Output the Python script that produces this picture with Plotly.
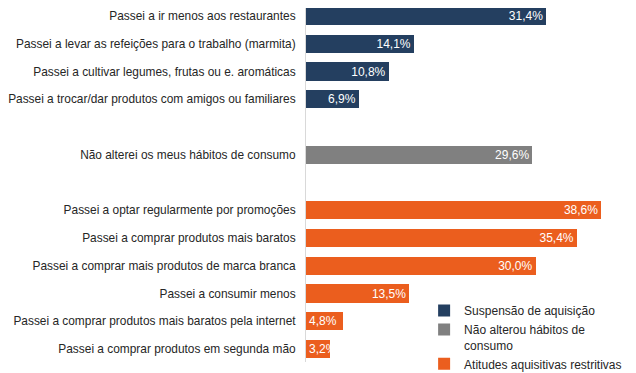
import plotly.graph_objects as go

# Data
grp1_labels = ["Passei a ir menos aos restaurantes",
               "Passei a levar as refeições para o trabalho (marmita)",
               "Passei a cultivar legumes, frutas ou e. aromáticas",
               "Passei a trocar/dar produtos com amigos ou familiares"]
grp1_values = [31.4, 14.1, 10.8, 6.9]

grp2_labels = ["Não alterei os meus hábitos de consumo"]
grp2_values = [29.6]

grp3_labels = ["Passei a optar regularmente por promoções",
               "Passei a comprar produtos mais baratos",
               "Passei a comprar mais produtos de marca branca",
               "Passei a consumir menos",
               "Passei a comprar produtos mais baratos pela internet",
               "Passei a comprar produtos em segunda mão"]
grp3_values = [38.6, 35.4, 30.0, 13.5, 4.8, 3.2]

series_names = ["Suspensão de aquisição",
                "Não alterou hábitos de<br>consumo",
                "Atitudes aquisitivas restritivas"]
colors = ["#243F60", "#808080", "#EB5E1E"]

spacer1, spacer2 = " ", "  "
category_order = grp1_labels + [spacer1] + grp2_labels + [spacer2] + grp3_labels

SMALL = 5.0  # bars too short for a right-aligned label


def fmt(v):
    return f"{v:.1f}%".replace(".", ",")


fig = go.Figure()
for i, (name, labels, values, color) in enumerate(zip(
        series_names, [grp1_labels, grp2_labels, grp3_labels],
        [grp1_values, grp2_values, grp3_values], colors)):
    big = [(l, v) for l, v in zip(labels, values) if v >= SMALL]
    small = [(l, v) for l, v in zip(labels, values) if v < SMALL]
    for part, anchor, show in ((big, "end", True), (small, "start", False)):
        if not part:
            continue
        ys = [p[0] for p in part]
        xs = [p[1] for p in part]
        fig.add_trace(go.Bar(
            y=ys, x=xs, orientation="h", name=name,
            legendgroup=f"g{i}", showlegend=show,
            marker=dict(color=color, line=dict(width=0)),
            text=[fmt(v) for v in xs], textposition="inside",
            insidetextanchor=anchor,
            textfont=dict(color="white", size=12, family="Liberation Sans, Arial"),
        ))

fig.update_layout(
    width=628, height=365,
    margin=dict(l=298, r=24, t=0, b=11, pad=0, autoexpand=False),
    paper_bgcolor="white", plot_bgcolor="white",
    barmode="stack", bargap=0.35,
    font=dict(family="Liberation Sans, Arial", size=12, color="#262626"),
    uniformtext=dict(minsize=12, mode="show"),
    xaxis=dict(range=[0, 40], visible=False, fixedrange=True, automargin=False),
    yaxis=dict(categoryorder="array", categoryarray=category_order,
               range=[12.468, -0.288], showline=True, linecolor="#D9D9D9",
               linewidth=1, showgrid=False, ticks="", ticklabelstandoff=7,
               automargin=False, fixedrange=True,
               tickfont=dict(size=11.9, color="#262626")),
    legend=dict(x=0.386, y=0.186, xanchor="left", yanchor="top",
                font=dict(size=12, color="#262626"), traceorder="normal",
                valign="top", itemwidth=30, bgcolor="rgba(0,0,0,0)"),
)

fig.write_html("out.html")
